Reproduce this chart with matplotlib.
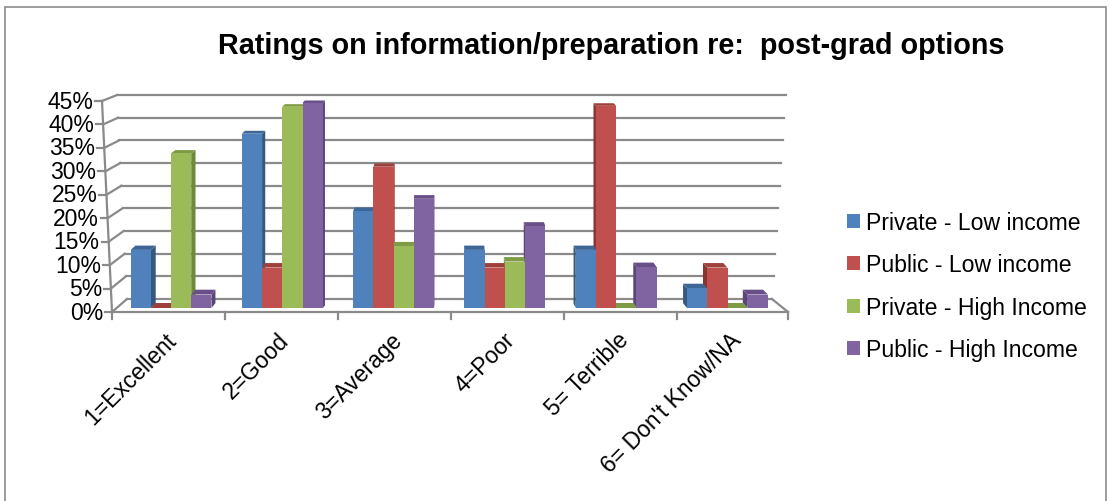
import numpy as np
import matplotlib
matplotlib.use("Agg")
import matplotlib.pyplot as plt
from matplotlib.patches import Polygon, Patch, Rectangle

plt.rcParams['font.family'] = ['Liberation Sans', 'DejaVu Sans']

# Datos de la encuesta
categorias = ['1=Excellent', '2=Good', '3=Average', '4=Poor', '5= Terrible', "6= Don't Know/NA"]
series = ['Private - Low income', 'Public - Low income', 'Private - High Income', 'Public - High Income']
private_low = [0.125, 0.375, 0.208, 0.125, 0.125, 0.042]
public_low = [0.0, 0.087, 0.304, 0.087, 0.435, 0.087]
private_high = [0.333, 0.433, 0.133, 0.100, 0.0, 0.0]
public_high = [0.029, 0.441, 0.235, 0.176, 0.088, 0.029]
valores = [private_low, public_low, private_high, public_high]
ticks_y = np.arange(0, 0.451, 0.05)

# colores: frente, lateral, tapa
frente = ['#4F81BD', '#C0504D', '#9BBB59', '#8064A2']
lateral = ['#36587F', '#8A3432', '#6E8A3A', '#5B4679']
tapa = ['#3E6797', '#A0403D', '#7E9C45', '#684F88']
gris = '#8a8a8a'

W, H = 1111, 502
fig = plt.figure(figsize=(W / 100, H / 100), dpi=100)

# el eje ocupa en pixeles x: 112..790, y: 313..95
ax = fig.add_axes([112 / W, (H - 313) / H, 678 / W, (313 - 95.2) / H])
ax.set_xlim(-0.5, 5.5)
ax.set_ylim(-0.0086, 0.46)
ax.axis('off')

PX = 1 / 113.0     # unidades x por pixel
PY = 1 / 464.8     # unidades y por pixel


def xpx(p):
    # pixel horizontal -> coordenada x
    return (p - 112) * PX - 0.5


# pared del fondo (rejilla) y pared izquierda
for v in ticks_y:
    f = v / 0.45
    yb = 0.01936 + 0.9753 * v
    xl = xpx(127 - 10 * f)
    xr = xpx(772 + 14 * f)
    ax.plot([xl, xr], [yb, yb], color=gris, lw=1.6, zorder=1, clip_on=False)
    yf = -0.0086 + 1.0088 * v
    xf = xpx(112 - 10 * f)
    ax.plot([xf, xl], [yf, yb], color=gris, lw=1.6, zorder=1, clip_on=False)
    ax.plot([xf - 7 * PX, xf], [yf, yf], color=gris, lw=1.6, zorder=1, clip_on=False)
    ax.text(xf - 9 * PX, yf, f'{v * 100:.0f}%', ha='right', va='center',
            fontsize=16.5, clip_on=False)

ax.plot([xpx(112), xpx(102)], [-0.0086, -0.0086 + 1.0088 * 0.45], color=gris, lw=1.6,
        zorder=1, clip_on=False)

# suelo
ax.plot([xpx(112), xpx(788)], [-0.0086, -0.0086], color=gris, lw=1.6, zorder=1, clip_on=False)
ax.plot([xpx(772), xpx(788)], [0.01936, -0.0086], color=gris, lw=1.6, zorder=1, clip_on=False)
for i in range(7):
    xt = min(i - 0.5, xpx(788))
    ax.plot([xt, xt], [-0.0086, -0.0086 - 7 * PY], color=gris, lw=1.6, clip_on=False)

# barras con caras laterales y tapa en perspectiva
ancho = 0.179
vp = 450.0
piezas = []
for i in range(len(categorias)):
    desplaz = (2.5 - 1.7 * i) * PX
    for j in range(len(series)):
        xc = i + desplaz + (j - 1.5) * ancho
        xc_px = (xc + 0.5) / PX + 112
        piezas.append((abs(xc_px - vp), i, j, xc, xc_px))

piezas.sort(key=lambda t: -t[0])
for rango, (_, i, j, xc, xc_px) in enumerate(piezas):
    v = valores[j][i]
    z = 3 + rango * 3
    b = ax.bar(xc, v, width=ancho, color=frente[j], lw=0, zorder=z + 2)
    x0, x1 = xc - ancho / 2, xc + ancho / 2
    dx = 0.016 * (vp - xc_px) * PX
    dy = (5 - 2.5 * v / 0.45) * PY
    top = v
    ax.add_patch(Polygon([(x0, top), (x1, top), (x1 + dx, top + dy), (x0 + dx, top + dy)],
                         closed=True, color=tapa[j], lw=0, zorder=z + 1))
    xs = x1 if dx > 0 else x0
    ax.add_patch(Polygon([(xs, 0), (xs, top), (xs + dx, top + dy), (xs + dx, dy)],
                         closed=True, color=lateral[j], lw=0, zorder=z))

# etiquetas de categorias
for i, c in enumerate(categorias):
    ax.text(i - 4 * PX, -0.0086 - 16 * PY, c, rotation=45, ha='right', va='top',
            rotation_mode='anchor', fontsize=16.5, clip_on=False)

# leyenda
handles = [Patch(facecolor=frente[j], edgecolor='none') for j in range(len(series))]
fig.legend(handles, series, loc='upper left', bbox_to_anchor=(847 / W, 1 - 212 / H),
           frameon=False, fontsize=16.6, handlelength=0.56, handleheight=0.56,
           handletextpad=0.25, labelspacing=0.84, borderaxespad=0, borderpad=0)

# titulo
fig.text(611 / W, 1 - 46 / H, 'Ratings on information/preparation re:  post-grad options',
         ha='center', va='center', fontsize=20.7, fontweight='bold')

# marco del grafico
fig.patches.append(Rectangle((5 / W, -0.05), 1101 / W, 1.05 - 8 / H, transform=fig.transFigure,
                             fill=False, edgecolor='#8c8c8c', lw=1.2))

fig.savefig('out.png', dpi=100)
